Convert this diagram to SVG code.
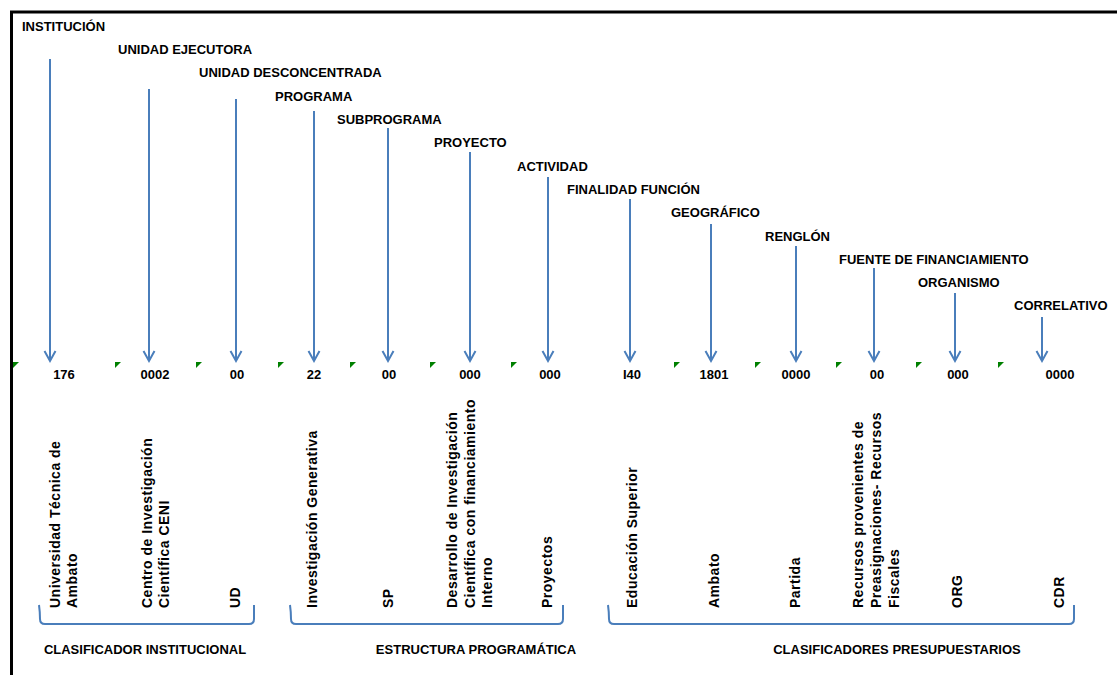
<svg xmlns="http://www.w3.org/2000/svg" width="1117" height="675" viewBox="0 0 1117 675">
<style>
.h{font-family:"Liberation Sans",Arial,sans-serif;font-size:13px;font-weight:bold;fill:#000}
.v{font-family:"Liberation Sans",Arial,sans-serif;font-size:13px;font-weight:bold;fill:#000;text-anchor:middle}
.r{font-family:"Liberation Sans",Arial,sans-serif;font-size:14px;font-weight:bold;fill:#000;letter-spacing:0.5px}
.c{font-family:"Liberation Sans",Arial,sans-serif;font-size:13px;font-weight:bold;fill:#000;text-anchor:middle}
.a{stroke:#4A7EBB;stroke-width:2;fill:none;marker-end:url(#ah)}
.b{stroke:#4A7EBB;stroke-width:2;fill:none}
.m{fill:#008000}
</style>
<defs>
<marker id="ah" markerUnits="userSpaceOnUse" viewBox="-12 -7 14 14" refX="0" refY="0" markerWidth="14" markerHeight="14" orient="auto" overflow="visible">
<path d="M-10,-5.5 L0,0 L-10,5.5" fill="none" stroke="#4A7EBB" stroke-width="2"/>
</marker>
</defs>
<rect width="1117" height="675" fill="#fff"/>
<g id="frame" stroke="#000" stroke-width="3" fill="none">
<path d="M1117,12 H11.5 V675"/>
</g>
<g id="connectors">
<line class="a" x1="50" y1="59" x2="50" y2="361"/>
<line class="a" x1="149" y1="89" x2="149" y2="361"/>
<line class="a" x1="236" y1="99" x2="236" y2="361"/>
<line class="a" x1="314" y1="111" x2="314" y2="361"/>
<line class="a" x1="388" y1="128" x2="388" y2="361"/>
<line class="a" x1="470" y1="152" x2="470" y2="361"/>
<line class="a" x1="548" y1="177" x2="548" y2="361"/>
<line class="a" x1="630" y1="199" x2="630" y2="361"/>
<line class="a" x1="711" y1="224" x2="711" y2="361"/>
<line class="a" x1="796" y1="246" x2="796" y2="361"/>
<line class="a" x1="874" y1="268" x2="874" y2="361"/>
<line class="a" x1="955" y1="293" x2="955" y2="361"/>
<line class="a" x1="1042" y1="317" x2="1042" y2="361"/>
</g>
<g id="markers">
<polygon class="m" points="13,362 19,362 13,368"/>
<polygon class="m" points="115,362 121,362 115,368"/>
<polygon class="m" points="196,362 202,362 196,368"/>
<polygon class="m" points="278,362 284,362 278,368"/>
<polygon class="m" points="350,362 356,362 350,368"/>
<polygon class="m" points="430,362 436,362 430,368"/>
<polygon class="m" points="511,362 517,362 511,368"/>
<polygon class="m" points="674,362 680,362 674,368"/>
<polygon class="m" points="755,362 761,362 755,368"/>
<polygon class="m" points="836,362 842,362 836,368"/>
<polygon class="m" points="916,362 922,362 916,368"/>
<polygon class="m" points="998,362 1004,362 998,368"/>
</g>
<g id="n-institucion">
<text class="h" x="22" y="31">INSTITUCIÓN</text>
<text class="v" x="64" y="379">176</text>
<text class="r" transform="translate(60,608) rotate(-90)">Universidad Técnica de</text>
<text class="r" transform="translate(77,608) rotate(-90)">Ambato</text>
</g>
<g id="n-unidad-ejecutora">
<text class="h" x="118" y="54">UNIDAD EJECUTORA</text>
<text class="v" x="155" y="379">0002</text>
<text class="r" transform="translate(152,608) rotate(-90)">Centro de Investigación</text>
<text class="r" transform="translate(169,608) rotate(-90)">Científica CENI</text>
</g>
<g id="n-unidad-desconcentrada">
<text class="h" x="199" y="77">UNIDAD DESCONCENTRADA</text>
<text class="v" x="237" y="379">00</text>
<text class="r" transform="translate(240,608) rotate(-90)">UD</text>
</g>
<g id="n-programa">
<text class="h" x="275" y="101">PROGRAMA</text>
<text class="v" x="314" y="379">22</text>
<text class="r" transform="translate(317,608) rotate(-90)">Investigación Generativa</text>
</g>
<g id="n-subprograma">
<text class="h" x="337" y="124">SUBPROGRAMA</text>
<text class="v" x="389" y="379">00</text>
<text class="r" transform="translate(393,608) rotate(-90)">SP</text>
</g>
<g id="n-proyecto">
<text class="h" x="434" y="147">PROYECTO</text>
<text class="v" x="470" y="379">000</text>
<text class="r" transform="translate(457,608) rotate(-90)">Desarrollo de Investigación</text>
<text class="r" transform="translate(475,608) rotate(-90)">Científica con financiamiento</text>
<text class="r" transform="translate(492,608) rotate(-90)">Interno</text>
</g>
<g id="n-actividad">
<text class="h" x="517" y="171">ACTIVIDAD</text>
<text class="v" x="550" y="379">000</text>
<text class="r" transform="translate(552,608) rotate(-90)">Proyectos</text>
</g>
<g id="n-finalidad">
<text class="h" x="567" y="194">FINALIDAD FUNCIÓN</text>
<text class="v" x="632" y="379">I40</text>
<text class="r" transform="translate(637,608) rotate(-90)">Educación Superior</text>
</g>
<g id="n-geografico">
<text class="h" x="671" y="217">GEOGRÁFICO</text>
<text class="v" x="714" y="379">1801</text>
<text class="r" transform="translate(719,608) rotate(-90)">Ambato</text>
</g>
<g id="n-renglon">
<text class="h" x="765" y="241">RENGLÓN</text>
<text class="v" x="796" y="379">0000</text>
<text class="r" transform="translate(800,608) rotate(-90)">Partida</text>
</g>
<g id="n-fuente">
<text class="h" x="839" y="264">FUENTE DE FINANCIAMIENTO</text>
<text class="v" x="877" y="379">00</text>
<text class="r" transform="translate(863,608) rotate(-90)">Recursos provenientes de</text>
<text class="r" transform="translate(881,608) rotate(-90)">Preasignaciones- Recursos</text>
<text class="r" transform="translate(899,608) rotate(-90)">Fiscales</text>
</g>
<g id="n-organismo">
<text class="h" x="918" y="287">ORGANISMO</text>
<text class="v" x="958" y="379">000</text>
<text class="r" transform="translate(962,608) rotate(-90)">ORG</text>
</g>
<g id="n-correlativo">
<text class="h" x="1014" y="310">CORRELATIVO</text>
<text class="v" x="1060" y="379">0000</text>
<text class="r" transform="translate(1064,608) rotate(-90)">CDR</text>
</g>
<g id="g-institucional">
<path class="b" d="M39,605 Q40,612 40,619 Q40,624 45,624 L249,624 Q254,624 254,619 L254,605"/>
<text class="c" x="145" y="654">CLASIFICADOR INSTITUCIONAL</text>
</g>
<g id="g-programatica">
<path class="b" d="M290,605 Q291,612 291,619 Q291,624 296,624 L558,624 Q563,624 563,619 L563,605"/>
<text class="c" x="476" y="654">ESTRUCTURA PROGRAMÁTICA</text>
</g>
<g id="g-presupuestarios">
<path class="b" d="M608,605 Q609,612 609,619 Q609,624 614,624 L1069,624 Q1074,624 1074,619 L1074,605"/>
<text class="c" x="897" y="654">CLASIFICADORES PRESUPUESTARIOS</text>
</g>
</svg>
